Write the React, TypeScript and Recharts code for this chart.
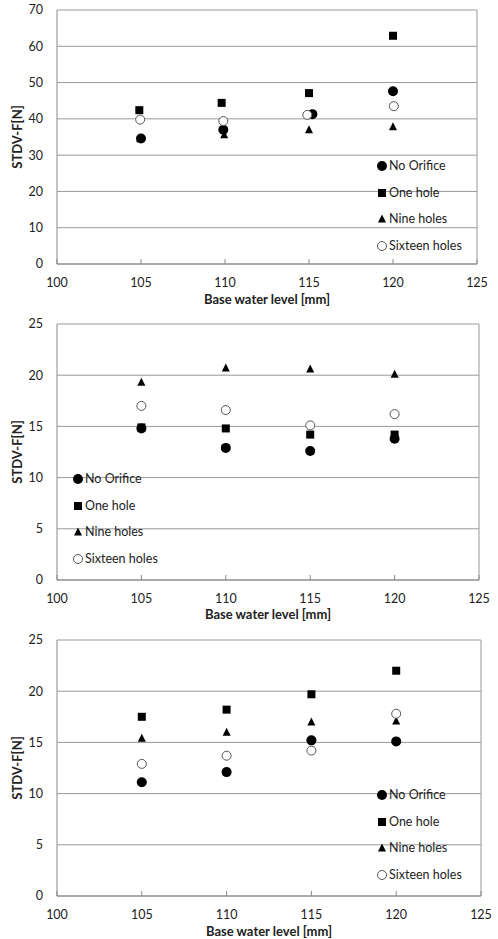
import React from 'react';
import { ScatterChart, Scatter, XAxis, YAxis, CartesianGrid, ReferenceLine, Legend } from 'recharts';

const FONT = 'Lato, "Open Sans", sans-serif';
const seriesNames = ['No Orifice', 'One hole', 'Nine holes', 'Sixteen holes'];
const xTicks = [100, 105, 110, 115, 120, 125];
const xLevels = [105, 110, 115, 120];

// Panel 1
const p1YTicks = [0, 10, 20, 30, 40, 50, 60, 70];
const p1NoOrificeX = [105.0, 109.9, 115.2, 120.0];
const p1NoOrifice = [34.6, 37.0, 41.3, 47.6];
const p1OneHoleX = [104.9, 109.8, 115.0, 120.0];
const p1OneHole = [42.4, 44.4, 47.1, 62.9];
const p1NineHolesX = [104.95, 109.95, 115.0, 120.0];
const p1NineHoles = [34.5, 35.6, 37.0, 37.8];
const p1SixteenHolesX = [104.95, 109.9, 114.9, 120.05];
const p1SixteenHoles = [39.8, 39.4, 41.1, 43.5];

// Panel 2
const p2YTicks = [0, 5, 10, 15, 20, 25];
const p2NoOrifice = [14.8, 12.9, 12.6, 13.8];
const p2OneHole = [14.9, 14.8, 14.2, 14.2];
const p2NineHoles = [19.3, 20.7, 20.6, 20.1];
const p2SixteenHoles = [17.0, 16.6, 15.1, 16.2];

// Panel 3
const p3YTicks = [0, 5, 10, 15, 20, 25];
const p3NoOrifice = [11.1, 12.1, 15.2, 15.1];
const p3OneHole = [17.5, 18.2, 19.7, 22.0];
const p3NineHoles = [15.4, 16.0, 17.0, 17.1];
const p3SixteenHoles = [12.9, 13.7, 14.2, 17.8];

const pts = (xs: number[], ys: number[]) => xs.map((x, i) => ({ x, y: ys[i] }));

const shapeFns = [
  (p: any) => <circle cx={p.cx} cy={p.cy} r={5} fill="#000" />,
  (p: any) => <rect x={p.cx - 4} y={p.cy - 4} width={8} height={8} fill="#000" />,
  (p: any) => (
    <path d={`M${p.cx},${p.cy - 4.5}L${p.cx + 4},${p.cy + 3.5}L${p.cx - 4},${p.cy + 3.5}Z`} fill="#000" />
  ),
  (p: any) => <circle cx={p.cx} cy={p.cy} r={4.5} fill="#fff" stroke="#555" strokeWidth={1} />,
];

const LegendBox = (props: any) => {
  const payload = [...(props.payload || [])].sort(
    (a: any, b: any) => seriesNames.indexOf(a.value) - seriesNames.indexOf(b.value)
  );
  return (
    <div style={{ fontFamily: FONT, fontSize: 12.5, color: '#222', lineHeight: '14px' }}>
      {payload.map((e: any) => {
        const idx = seriesNames.indexOf(e.value);
        return (
          <div key={e.value} style={{ height: 26.5, display: 'flex', alignItems: 'center', whiteSpace: 'nowrap' }}>
            <svg width={10} height={10} style={{ display: 'block' }}>
              {shapeFns[idx]({ cx: 5, cy: 5 })}
            </svg>
            <span style={{ marginLeft: 2 }}>{e.value}</span>
          </div>
        );
      })}
    </div>
  );
};

type PanelProps = {
  height: number;
  top: number;
  right: number;
  xAxisHeight: number;
  titleOffset: number;
  yMax: number;
  yTicks: number[];
  series: { x: number; y: number }[][];
  legendLeft: number;
  legendTop: number;
};

const Panel = ({
  height,
  top,
  right,
  xAxisHeight,
  titleOffset,
  yMax,
  yTicks,
  series,
  legendLeft,
  legendTop,
}: PanelProps) => (
  <ScatterChart width={498} height={height} margin={{ top, right, bottom: 0, left: 0 }}>
    <CartesianGrid vertical={false} stroke="#999" />
    <XAxis
      type="number"
      dataKey="x"
      domain={[100, 125]}
      ticks={xTicks}
      allowDataOverflow
      height={xAxisHeight}
      stroke="#888"
      tickSize={-5}
      tickMargin={19}
      tick={{ fill: '#222', fontSize: 12.5, fontFamily: FONT }}
      label={{
        value: 'Base water level [mm]',
        position: 'insideBottom',
        offset: titleOffset,
        style: { fontFamily: FONT, fontSize: 13, fontWeight: 'bold', fill: '#222' },
      }}
    />
    <YAxis
      type="number"
      dataKey="y"
      domain={[0, yMax]}
      ticks={yTicks}
      width={57}
      stroke="#888"
      tickLine={false}
      tickSize={0}
      tickMargin={14}
      tick={{ fill: '#222', fontSize: 12.5, fontFamily: FONT }}
      label={{
        value: 'STDV-F[N]',
        angle: -90,
        position: 'insideLeft',
        offset: 17,
        style: { fontFamily: FONT, fontSize: 13, fontWeight: 'bold', fill: '#222', textAnchor: 'middle' },
      }}
    />
    <ReferenceLine x={125} stroke="#999" ifOverflow="visible" />
    <Legend
      layout="vertical"
      align="center"
      verticalAlign="middle"
      content={<LegendBox />}
      wrapperStyle={{ left: legendLeft, top: legendTop, width: 'auto', height: 'auto' }}
    />
    {series.map((data, i) => (
      <Scatter
        key={seriesNames[i]}
        name={seriesNames[i]}
        data={data}
        fill="#000"
        shape={shapeFns[i]}
        isAnimationActive={false}
      />
    ))}
  </ScatterChart>
);

export default function App() {
  return (
    <div
      style={{
        position: 'absolute',
        left: 0,
        top: 0,
        width: 498,
        height: 939,
        overflow: 'hidden',
        background: '#fff',
      }}
    >
      <Panel
        height={308}
        top={10}
        right={21}
        xAxisHeight={44}
        titleOffset={4.5}
        yMax={70}
        yTicks={p1YTicks}
        series={[
          pts(p1NoOrificeX, p1NoOrifice),
          pts(p1OneHoleX, p1OneHole),
          pts(p1NineHolesX, p1NineHoles),
          pts(p1SixteenHolesX, p1SixteenHoles),
        ]}
        legendLeft={377}
        legendTop={153}
      />
      <Panel
        height={318}
        top={16}
        right={19}
        xAxisHeight={46}
        titleOffset={7}
        yMax={25}
        yTicks={p2YTicks}
        series={[
          pts(xLevels, p2NoOrifice),
          pts(xLevels, p2OneHole),
          pts(xLevels, p2NineHoles),
          pts(xLevels, p2SixteenHoles),
        ]}
        legendLeft={73}
        legendTop={158}
      />
      <Panel
        height={313}
        top={14}
        right={17}
        xAxisHeight={43}
        titleOffset={3}
        yMax={25}
        yTicks={p3YTicks}
        series={[
          pts(xLevels, p3NoOrifice),
          pts(xLevels, p3OneHole),
          pts(xLevels, p3NineHoles),
          pts(xLevels, p3SixteenHoles),
        ]}
        legendLeft={377}
        legendTop={156}
      />
    </div>
  );
}
